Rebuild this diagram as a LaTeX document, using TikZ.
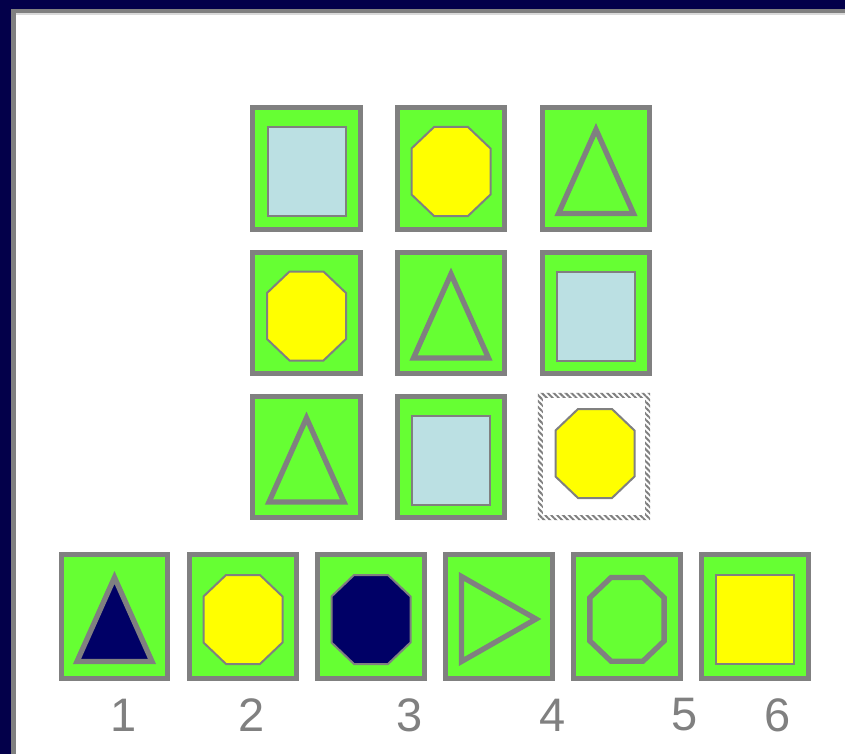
\documentclass[tikz,border=0pt]{standalone}
\usepackage{fontspec}
\setmainfont{Liberation Sans}
\usetikzlibrary{patterns.meta}
\definecolor{cFrame}{HTML}{03004A}
\definecolor{cRim}{HTML}{808080}
\definecolor{cCell}{HTML}{66FF33}
\definecolor{cIce}{HTML}{BBE0E3}
\definecolor{cSun}{HTML}{FFFF00}
\definecolor{cInk}{HTML}{000066}
\newcommand{\shOct}[3][]{\draw[shp,fill=#3,shift={(#2)},#1]
  (-17,-41.5) -- (17,-41.5) -- (39.5,-20) -- (39.5,26) -- (17,47.5)
  -- (-17,47.5) -- (-39.5,26) -- (-39.5,-20) -- cycle;}
\newcommand{\shBox}[3][]{\draw[shp,fill=#3,shift={(#2)},#1]
  (-39,-41.5) rectangle (39,47.5);}
\newcommand{\shTri}[3][]{\draw[shp,fill=#3,shift={(#2)},#1]
  (0,-39) -- (37.5,45) -- (-37.5,45) -- cycle;}
\newcommand{\shPlay}[3][]{\draw[shp,fill=#3,shift={(#2)},#1]
  (-37.5,-40) -- (37,2.5) -- (-37.5,45) -- cycle;}

\begin{document}
\begin{tikzpicture}[x=1pt,y=-1pt,
  cell/.style={draw=cRim,fill=cCell,line width=5.3pt,minimum width=107.5pt,
    minimum height=121.5pt,inner sep=0pt},
  opt/.style={cell,minimum width=106.5pt,minimum height=123.5pt},
  gap/.style={minimum width=112pt,minimum height=127pt,inner sep=0pt},
  hatch/.style={pattern={Lines[angle=-45,distance=4.2pt,line width=2pt]},
    pattern color=cRim},
  shp/.style={draw=cRim,line width=2pt,line join=miter},
  heavy/.style={line width=5.3pt},
  num/.style={font=\fontsize{47}{50}\selectfont,text=cRim,inner sep=0pt}]

  \fill[cFrame] (0,0) rectangle (845,754);
  \fill[cRim] (11,9) rectangle (845,754);
  \fill[black!15] (16,13.5) rectangle (845,15);
  \fill[white] (16,15) rectangle (845,754);

  \node[cell] (c11) at (306.5,168.5) {};
  \node[cell] (c12) at (451,168.5) {};
  \node[cell] (c13) at (596,168.5) {};
  \node[cell] (c21) at (306.5,313) {};
  \node[cell] (c22) at (451,313) {};
  \node[cell] (c23) at (596,313) {};
  \node[cell] (c31) at (306.5,457) {};
  \node[cell] (c32) at (451,457) {};
  \node[gap]  (c33) at (594,456.5) {};
  \fill[hatch,even odd rule] (c33.north west) rectangle (c33.south east)
    ([shift={(5,5)}]c33.north west) rectangle ([shift={(-5,-5)}]c33.south east);

  \node[opt] (o1) at (114.5,616.5) {};
  \node[opt] (o2) at (243,616.5) {};
  \node[opt] (o3) at (371,616.5) {};
  \node[opt] (o4) at (499,616.5) {};
  \node[opt] (o5) at (627,616.5) {};
  \node[opt] (o6) at (755,616.5) {};

  \shBox{c11}{cIce}
  \shOct{c12}{cSun}
  \shTri[heavy]{c13}{cCell}
  \shOct{c21}{cSun}
  \shTri[heavy]{c22}{cCell}
  \shBox{c23}{cIce}
  \shTri[heavy]{c31}{cCell}
  \shBox{c32}{cIce}
  \shOct[xshift=1pt,yshift=6pt]{c33}{cSun}

  \shTri[heavy]{o1}{cInk}
  \shOct{o2}{cSun}
  \shOct{o3}{cInk}
  \shPlay[heavy]{o4}{cCell}
  \shOct[heavy,scale=0.94]{o5}{cCell}
  \shBox{o6}{cSun}

  \node[num] (n1) at (124,715) {1};
  \node[num] (n2) at (251.5,715) {2};
  \node[num] (n3) at (409.5,715) {3};
  \node[num] (n4) at (552.5,715) {4};
  \node[num] (n5) at (685,715) {5};
  \node[num] (n6) at (777.5,715) {6};
\end{tikzpicture}
\end{document}
